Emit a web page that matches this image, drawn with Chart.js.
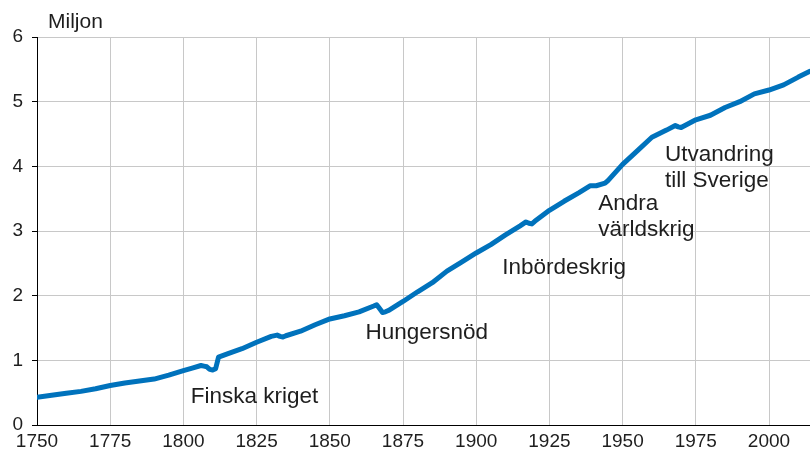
<!DOCTYPE html>
<html>
<head>
<meta charset="utf-8">
<script src="https://cdn.jsdelivr.net/npm/chart.js@4"></script>
<style>
  html, body { margin: 0; padding: 0; background: #fff; }
  #wrap { width: 810px; height: 458px; position: relative; }
</style>
</head>
<body>
<div id="wrap"><canvas id="befolkning"></canvas></div>
<script>
// Finlands folkmängd, miljoner
const years = [1750, 1755, 1760, 1765, 1770, 1775, 1780, 1785, 1790, 1795, 1800, 1803, 1806, 1807, 1808, 1809, 1810, 1811, 1812, 1815,
  1820, 1825, 1830, 1832, 1833, 1834, 1835, 1840, 1845, 1850, 1855, 1860, 1865, 1866, 1867, 1868, 1869, 1870, 1875, 1880,
  1885, 1890, 1895, 1900, 1905, 1910, 1915, 1917, 1918, 1919, 1920, 1925, 1930, 1935, 1939, 1941, 1944, 1945, 1947, 1950,
  1955, 1960, 1965, 1968, 1969, 1970, 1975, 1980, 1985, 1990, 1995, 2000, 2005, 2010, 2014];
const population = [0.43, 0.46, 0.49, 0.52, 0.56, 0.61, 0.65, 0.68, 0.71, 0.77, 0.84, 0.88, 0.92, 0.91, 0.90, 0.86, 0.85, 0.87, 1.05, 1.10,
  1.18, 1.28, 1.37, 1.39, 1.37, 1.36, 1.38, 1.45, 1.55, 1.64, 1.69, 1.75, 1.84, 1.86, 1.80, 1.74, 1.75, 1.77, 1.91, 2.06,
  2.20, 2.38, 2.52, 2.66, 2.79, 2.94, 3.08, 3.14, 3.12, 3.11, 3.15, 3.32, 3.46, 3.59, 3.70, 3.70, 3.74, 3.78, 3.88, 4.03,
  4.24, 4.45, 4.56, 4.63, 4.61, 4.60, 4.72, 4.79, 4.91, 5.00, 5.12, 5.18, 5.26, 5.38, 5.47];

// händelser: text (rader), år, värde där texten börjar
const eventLabels = [['Finska kriget'], ['Hungersnöd'], ['Inbördeskrig'], ['Andra', 'världskrig'], ['Utvandring', 'till Sverige']];
const eventYears = [1802.5, 1862.2, 1908.9, 1941.7, 1964.5];
const eventValues = [0.43, 1.42, 2.43, 3.42, 4.18];

const yTitle = 'Miljon';

const FONT = '"Liberation Sans", Arial, sans-serif';

const annotations = {
  id: 'annotations',
  afterDatasetsDraw(chart) {
    const ctx = chart.ctx;
    const x = chart.scales.x;
    const y = chart.scales.y;
    ctx.save();
    ctx.fillStyle = '#1e1e1e';
    ctx.font = '22.5px ' + FONT;
    ctx.textAlign = 'left';
    ctx.textBaseline = 'middle';
    eventLabels.forEach((lines, i) => {
      const px = x.getPixelForValue(eventYears[i]);
      const py = y.getPixelForValue(eventValues[i]);
      lines.forEach((t, j) => ctx.fillText(t, px, py + j * 26));
    });
    // enhet ovanför y-axeln
    ctx.font = '21px ' + FONT;
    ctx.fillText(yTitle, 48, 22);
    ctx.restore();
  }
};

const ctx = document.getElementById('befolkning').getContext('2d');
const chart = new Chart(ctx, {
  type: 'line',
  data: {
    datasets: [{
      data: years.map((yr, i) => ({ x: yr, y: population[i] })),
      borderColor: '#0072bc',
      borderWidth: 5,
      pointRadius: 0,
      tension: 0,
      fill: false,
      borderJoinStyle: 'round',
      borderCapStyle: 'round'
    }]
  },
  options: {
    responsive: true,
    maintainAspectRatio: false,
    animation: false,
    layout: { padding: { top: 37, right: 0, left: 0, bottom: 0 } },
    plugins: { legend: { display: false }, tooltip: { enabled: false } },
    scales: {
      x: {
        type: 'linear',
        min: 1750,
        max: 2014,
        afterFit(scale) { scale.height = 33; },
        ticks: {
          stepSize: 25,
          includeBounds: false,
          color: '#1e1e1e',
          font: { family: FONT, size: 19 },
          padding: 5,
          maxRotation: 0,
          callback: (v) => String(v)
        },
        grid: { color: '#c8c8c8', lineWidth: 1, drawTicks: false },
        border: { color: '#000', width: 1 }
      },
      y: {
        min: 0,
        max: 6,
        afterFit(scale) { scale.width = 37; },
        ticks: {
          stepSize: 1,
          color: '#1e1e1e',
          font: { family: FONT, size: 19 },
          padding: 9
        },
        grid: { color: '#c8c8c8', lineWidth: 1, tickColor: '#000', tickLength: 5 },
        border: { color: '#000', width: 1 }
      }
    }
  },
  plugins: [annotations]
});
</script>
</body>
</html>
